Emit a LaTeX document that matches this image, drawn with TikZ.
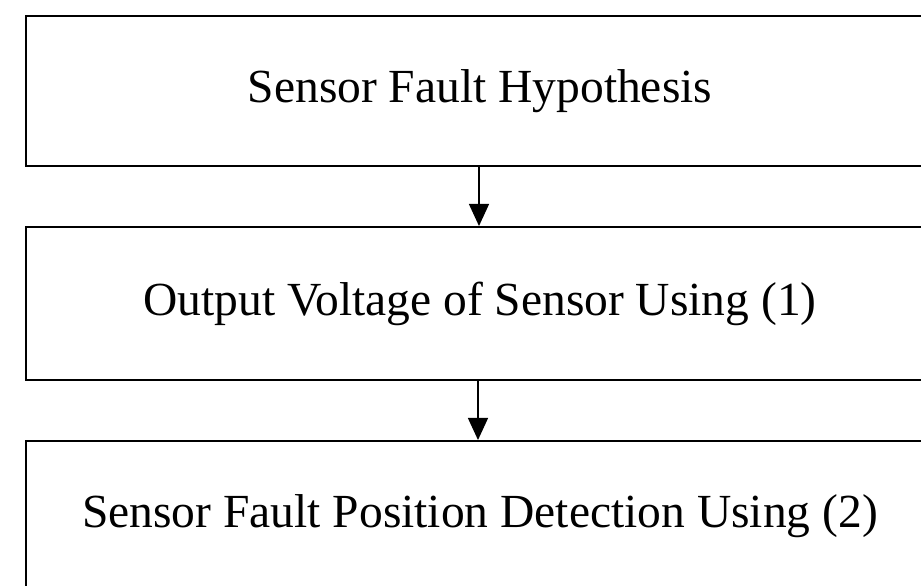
\documentclass[tikz,border=0pt]{standalone}
\usepackage{fontspec}
\setmainfont{Liberation Serif}
\usetikzlibrary{arrows.meta}
\begin{document}
\begin{tikzpicture}[x=1pt,y=1pt,
  stage/.style={draw=black, line width=2pt, minimum width=908pt,
    inner sep=0pt, font=\fontsize{47.5}{56}\selectfont},
  flow/.style={line width=1.3pt, -{Triangle[length=22pt,width=20pt]}}]
\useasboundingbox (0,0) rectangle (921,586);
\clip (0,0) rectangle (921,586);
% three stacked stages, each wider than the page on the right
\node[stage, minimum height=149.5pt] (hyp) at (480,494.75) {Sensor Fault Hypothesis};
\node[stage, minimum height=153pt] (volt) at (480,282.5) {Output Voltage of Sensor Using (1)};
\node[stage, minimum height=150pt] (pos) at (480,70) {Sensor Fault Position Detection Using (2)};
\draw[flow] (hyp.south -| 479,0) -- (volt.north -| 479,0);
\draw[flow] (volt.south -| 478,0) -- (pos.north -| 478,0);
\end{tikzpicture}
\end{document}
